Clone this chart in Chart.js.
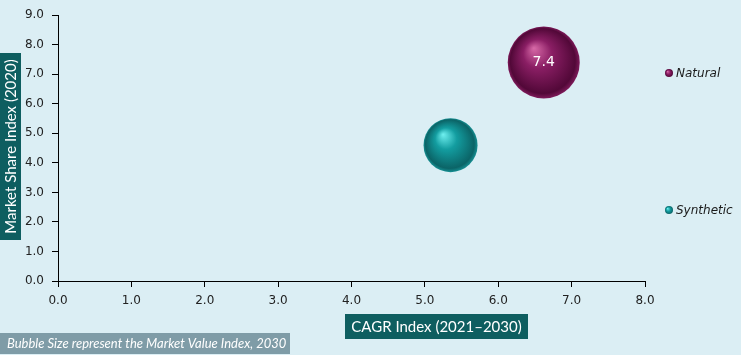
<!DOCTYPE html>
<html><head><meta charset="utf-8">
<script src="https://cdn.jsdelivr.net/npm/chart.js@4.4.0/dist/chart.umd.min.js"></script>
<style>html,body{margin:0;padding:0;background:#DBEEF4;}#wrap{width:741px;height:355px;position:relative;}</style>
</head><body><div id="wrap"><canvas id="c" width="741" height="355"></canvas></div>
<script>
const categories = ["Natural", "Synthetic"];
const cagrIndex = [6.62, 5.35];
const marketShareIndex = [7.4, 4.6];
const bubbleRadius = [36, 27];
const bubbleLabels = ["7.4", ""];
const xTicks = [0,1,2,3,4,5,6,7,8];
const yTicks = [0,1,2,3,4,5,6,7,8,9];

const palette = {
  Natural: {hi:'#D86AA8', mid:'#8A1E64', dark:'#520838', rim:'#7E1A5A', base:'#6E1050'},
  Synthetic: {hi:'#6FF0F0', mid:'#139DA0', dark:'#0B6467', rim:'#168F92', base:'#128A8D'}
};

function gradFor(ctx, name) {
  const chart = ctx.chart;
  const p = palette[name];
  if (!chart.chartArea || ctx.raw == null) return p.base;
  const c = chart.ctx;
  const x = chart.scales.x.getPixelForValue(ctx.raw.x);
  const y = chart.scales.y.getPixelForValue(ctx.raw.y);
  const r = ctx.raw.r;
  const g = c.createRadialGradient(x - 0.28*r, y - 0.4*r, 0, x, y, r);
  g.addColorStop(0, p.hi);
  g.addColorStop(0.4, p.mid);
  g.addColorStop(0.9, p.dark);
  g.addColorStop(1, p.rim);
  return g;
}

const datasets = categories.map((name, i) => ({
  label: name,
  data: [{x: cagrIndex[i], y: marketShareIndex[i], r: bubbleRadius[i]}],
  backgroundColor: (ctx) => gradFor(ctx, name),
  borderWidth: 0,
  hoverBorderWidth: 0
}));

const decor = {
  id: 'decor',
  beforeDraw(chart) {
    const c = chart.ctx;
    c.save();
    c.fillStyle = '#DBEEF4';
    c.fillRect(0, 0, chart.width, chart.height);
    c.restore();
  },
  afterDatasetsDraw(chart) {
    const c = chart.ctx;
    c.save();
    c.fillStyle = '#FFFFFF';
    c.font = '14px "DejaVu Sans"';
    c.textAlign = 'center';
    c.textBaseline = 'middle';
    categories.forEach((n, i) => {
      if (!bubbleLabels[i]) return;
      const x = chart.scales.x.getPixelForValue(cagrIndex[i]);
      const y = chart.scales.y.getPixelForValue(marketShareIndex[i]);
      c.fillText(bubbleLabels[i], x, y);
    });
    c.fillStyle = '#0E5E60';
    c.fillRect(345, 314, 183, 25);
    c.fillStyle = '#FFFFFF';
    c.font = '15px Lato';
    c.fillText('CAGR Index (2021\u20132030)', 436.5, 327);
    c.fillStyle = '#0E5E60';
    c.fillRect(0, 53, 21, 187);
    c.save();
    c.translate(11, 146.5);
    c.rotate(-Math.PI/2);
    c.fillStyle = '#FFFFFF';
    c.fillText('Market Share Index (2020)', 0, 0);
    c.restore();
    c.fillStyle = '#7F9CA7';
    c.fillRect(0, 333, 290, 21);
    c.fillStyle = '#FFFFFF';
    c.font = 'italic 13px Lato';
    c.textAlign = 'left';
    c.fillText('Bubble Size represent the Market Value Index, 2030', 7, 344);
    const ly = [73, 210];
    categories.forEach((n, i) => {
      const p = palette[n];
      const g = c.createRadialGradient(667.5, ly[i]-1.5, 0, 669, ly[i], 4);
      g.addColorStop(0, p.hi); g.addColorStop(0.5, p.mid); g.addColorStop(1, p.dark);
      c.fillStyle = g;
      c.beginPath(); c.arc(669, ly[i], 4, 0, Math.PI*2); c.fill();
      c.fillStyle = '#1A1A1A';
      c.font = 'italic 12px "DejaVu Sans"';
      c.fillText(n, 676, ly[i]+1);
    });
    c.restore();
  }
};

new Chart(document.getElementById('c'), {
  type: 'bubble',
  data: { datasets },
  options: {
    responsive: false,
    animation: false,
    clip: false,
    layout: { autoPadding: false, padding: {left: 0, right: 96, top: 15, bottom: 44} },
    plugins: { legend: {display: false}, tooltip: {enabled: false} },
    scales: {
      x: {
        type: 'linear', min: xTicks[0], max: xTicks[xTicks.length-1],
        afterBuildTicks: (s) => { s.ticks = xTicks.map(v => ({value: v})); },
        afterFit: (s) => { s.height = 30; },
        grid: {drawOnChartArea: false, drawTicks: true, tickLength: 6, color: '#000'},
        border: {display: true, color: '#000', width: 1},
        ticks: {color: '#222', font: {family: 'DejaVu Sans', size: 12}, padding: 7, callback: (v) => Number(v).toFixed(1), maxRotation: 0}
      },
      y: {
        type: 'linear', min: yTicks[0], max: yTicks[yTicks.length-1],
        afterBuildTicks: (s) => { s.ticks = yTicks.map(v => ({value: v})); },
        afterFit: (s) => { s.width = 58; },
        grid: {drawOnChartArea: false, drawTicks: true, tickLength: 6, color: '#000'},
        border: {display: true, color: '#000', width: 1},
        ticks: {color: '#222', font: {family: 'DejaVu Sans', size: 12}, padding: 8, callback: (v) => Number(v).toFixed(1)}
      }
    }
  },
  plugins: [decor]
});
</script></body></html>
